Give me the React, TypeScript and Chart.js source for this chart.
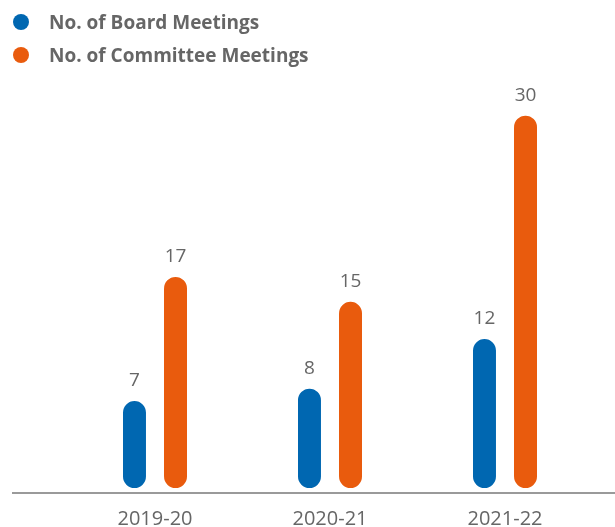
import React, { useEffect, useRef } from "react";
import { Chart, registerables } from "chart.js";

Chart.register(...registerables);

const categories = ["2019-20", "2020-21", "2021-22"];
const boardMeetings = [7, 8, 12];
const committeeMeetings = [17, 15, 30];
const seriesNames = ["No. of Board Meetings", "No. of Committee Meetings"];
const seriesColors = ["#0067B1", "#E95B0D"];

const FONT = "'Open Sans', 'Noto Sans', sans-serif";

const valueLabels = {
  id: "valueLabels",
  afterDatasetsDraw(chart: any) {
    const ctx = chart.ctx;
    ctx.save();
    ctx.font = `400 19px ${FONT}`;
    ctx.fillStyle = "#666666";
    ctx.textAlign = "center";
    ctx.textBaseline = "bottom";
    chart.data.datasets.forEach((ds: any, i: number) => {
      const meta = chart.getDatasetMeta(i);
      meta.data.forEach((bar: any, j: number) => {
        ctx.fillText(String(ds.data[j]), bar.x, bar.y - 11);
      });
    });
    ctx.restore();
  },
};

const baseLine = {
  id: "baseLine",
  afterDraw(chart: any) {
    const ctx = chart.ctx;
    const y = chart.chartArea.bottom + 5;
    ctx.save();
    ctx.strokeStyle = "#9a9a9a";
    ctx.lineWidth = 2;
    ctx.beginPath();
    ctx.moveTo(12, y);
    ctx.lineTo(chart.width, y);
    ctx.stroke();
    ctx.restore();
  },
};

export default function App() {
  const ref = useRef<HTMLCanvasElement>(null);

  useEffect(() => {
    document.body.style.margin = "0";
    const chart = new Chart(ref.current!, {
      type: "bar",
      data: {
        labels: categories,
        datasets: [
          {
            label: seriesNames[0],
            data: boardMeetings,
            backgroundColor: seriesColors[0],
            borderRadius: 12,
            borderSkipped: false,
            categoryPercentage: 0.469,
            barPercentage: 0.56,
          },
          {
            label: seriesNames[1],
            data: committeeMeetings,
            backgroundColor: seriesColors[1],
            borderRadius: 12,
            borderSkipped: false,
            categoryPercentage: 0.469,
            barPercentage: 0.56,
          },
        ],
      },
      options: {
        animation: false,
        responsive: false,
        devicePixelRatio: 1,
        layout: { padding: { left: 67.5, right: 22.5, top: 66, bottom: -23 } },
        plugins: {
          legend: { display: false },
          tooltip: { enabled: false },
        },
        scales: {
          x: {
            grid: { display: false, drawTicks: false },
            border: { display: false },
            ticks: {
              color: "#666666",
              font: { family: FONT, size: 20, weight: "400" },
              padding: 19,
            },
          },
          y: {
            display: false,
            min: 0,
            max: 34,
          },
        },
      },
      plugins: [valueLabels, baseLine],
    });
    return () => chart.destroy();
  }, []);

  const legendItem = (i: number, top: number) => (
    <div
      style={{
        position: "absolute",
        left: 0,
        top,
        height: 24,
        display: "flex",
        alignItems: "center",
      }}
    >
      <span
        style={{
          position: "absolute",
          left: 12.5,
          top: 4,
          width: 16,
          height: 16,
          borderRadius: "50%",
          background: seriesColors[i],
        }}
      />
      <span
        style={{
          position: "absolute",
          left: 49,
          top: 0,
          whiteSpace: "nowrap",
          font: `700 19px ${FONT}`,
          lineHeight: "24px",
          color: "#666666",
        }}
      >
        {seriesNames[i]}
      </span>
    </div>
  );

  return (
    <div style={{ position: "relative", width: 615, height: 527, overflow: "hidden" }}>
      <canvas ref={ref} width={615} height={527} style={{ display: "block" }} />
      {legendItem(0, 9.5)}
      {legendItem(1, 43)}
    </div>
  );
}
